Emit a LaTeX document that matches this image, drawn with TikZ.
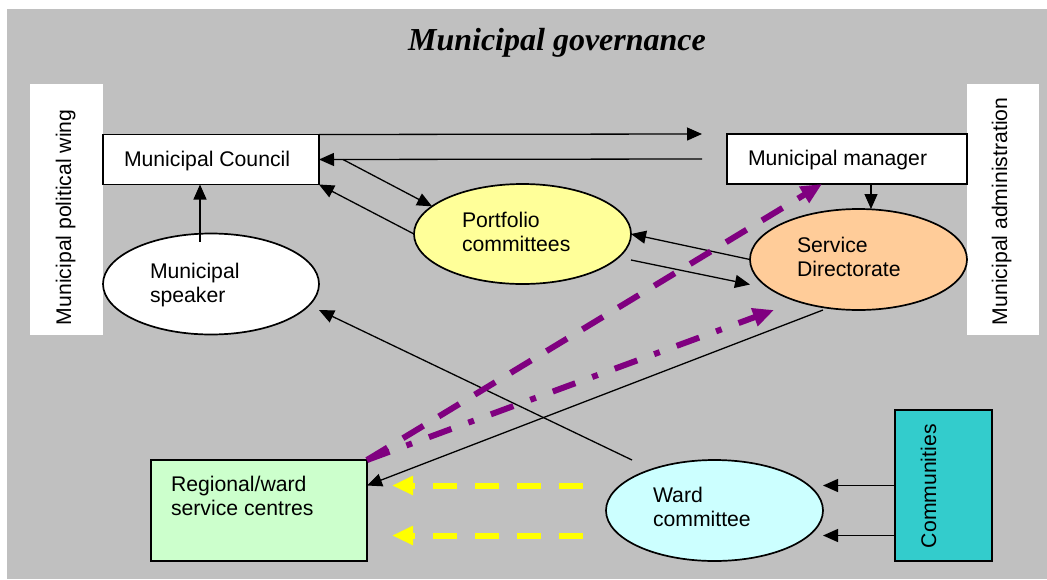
\documentclass[tikz,border=0pt]{standalone}
\usepackage{fontspec}
\setmainfont{Liberation Sans}
\newfontfamily\headfont{Liberation Serif}
\usetikzlibrary{shapes.geometric,arrows.meta}

\definecolor{panelgray}{HTML}{C0C0C0}
\definecolor{pfyellow}{HTML}{FFFF99}
\definecolor{sdorange}{HTML}{FFCC99}
\definecolor{wdcyan}{HTML}{CCFFFF}
\definecolor{rcgreen}{HTML}{CCFFCC}
\definecolor{commteal}{HTML}{33CCCC}
\definecolor{flowpurple}{HTML}{800080}
\definecolor{flowyellow}{HTML}{FFFF00}

% two left-aligned lines, baseline on the first line
\newcommand\twolines[2]{\begin{tabular}[t]{@{}l@{}}#1\\#2\end{tabular}}

\begin{document}
\begin{tikzpicture}[x=1pt,y=-1pt,
  every node/.style={font=\fontsize{21.2}{24}\selectfont},
  box/.style={draw, line width=1.7pt, rectangle, inner sep=0pt, outer sep=0pt},
  oval/.style={draw, line width=1.7pt, ellipse, inner sep=0pt, outer sep=0pt},
  strip/.style={fill=white, rectangle, inner sep=0pt, outer sep=0pt, minimum height=251pt},
  lbl/.style={anchor=base west, inner sep=0pt, outer sep=0pt},
  vlbl/.style={anchor=base west, inner sep=0pt, outer sep=0pt, rotate=90},
  arr/.style={line width=1.3pt, -{Triangle[length=15pt,width=13pt]}},
  thickflow/.style={line width=6pt, -{Triangle[length=21pt,width=18pt]}},
  longdash/.style={thickflow, dash pattern=on 24pt off 18pt},
  longdashdot/.style={thickflow, dash pattern=on 24pt off 18pt on 6pt off 18pt},
]
% page and panel
\useasboundingbox (0,0) rectangle (1047,579);
\fill[white] (0,0) rectangle (1047,579);
\fill[panelgray] (7,9) rectangle (1047,579);

\node[anchor=base, inner sep=0pt, font=\headfont\fontsize{32}{36}\selectfont\bfseries\itshape]
  (title) at (557,50) {Municipal governance};

% side bands
\node[strip, minimum width=73pt] (polwing) at (66.5,209.5) {};
\node[strip, minimum width=72pt] (adminwing) at (1003,209.5) {};
\node[vlbl] (polwing-text) at (71,325) {Municipal political wing};
\node[vlbl] (adminwing-text) at (1007,325) {Municipal administration};

% boxes and ovals
\node[box, fill=white, minimum width=216pt, minimum height=50pt] (council) at (211,159.5) {};
\node[box, fill=white, minimum width=240pt, minimum height=50pt] (manager) at (847,159) {};
\node[oval, fill=white, minimum width=216pt, minimum height=101pt] (speaker) at (211,284) {};
\node[oval, fill=pfyellow, minimum width=217pt, minimum height=100pt] (portfolio) at (522.5,234) {};
\node[oval, fill=sdorange, minimum width=217pt, minimum height=101pt] (directorate) at (858.5,259.5) {};
\node[oval, fill=wdcyan, minimum width=217pt, minimum height=101pt] (ward) at (714.5,510.5) {};
\node[box, fill=rcgreen, minimum width=216pt, minimum height=101pt] (regional) at (259,510.5) {};
\node[box, fill=commteal, minimum width=97pt, minimum height=151pt] (communities) at (943.5,485.5) {};

% black connectors
\draw[arr] (council.north east) -- ([xshift=-25pt]manager.north west);
\draw[arr] ([xshift=-25pt]manager.west) -- (council.east);
\draw[arr] ([xshift=24pt]council.east) -- (portfolio.163);
\draw[arr] (portfolio.west) -- (council.south east);
\draw[arr] (directorate.west) -- (portfolio.east);
\draw[arr] ([yshift=-26pt]portfolio.east) -- ([yshift=-25pt]directorate.west);
\draw[arr] ([xshift=24pt]manager.south) -- ([xshift=12.5pt]directorate.north);
\draw[arr] ([xshift=-11pt,yshift=-8pt]speaker.north) -- ([xshift=-11pt]council.south);
\draw[arr] ([xshift=-82.5pt]ward.north) -- ([yshift=-26pt]speaker.east);
\draw[arr] ([xshift=-35.5pt]directorate.south) -- ([yshift=25pt]regional.east);
\draw[arr] (communities.west) -- ([yshift=25pt]ward.east);
\draw[arr] ([yshift=-50pt]communities.west) -- ([yshift=-25pt]ward.east);

% thick feedback flows
\draw[longdash, flowyellow] ([xshift=-23pt,yshift=25pt]ward.west) -- ([xshift=25pt,yshift=25pt]regional.east);
\draw[longdash, flowyellow] ([xshift=-23pt,yshift=-25pt]ward.west) -- ([xshift=25pt,yshift=-25pt]regional.east);
\draw[longdash, flowpurple] (regional.north east) -- ([xshift=-25pt]manager.south);
\draw[longdashdot, flowpurple] (regional.north east) -- ([xshift=-84.5pt]directorate.south);

% texts
\node[lbl] (council-text) at (124,166) {Municipal Council};
\node[lbl] (manager-text) at (748,165) {Municipal manager};
\node[lbl] (speaker-text) at (150,278) {\twolines{Municipal}{speaker}};
\node[lbl] (portfolio-text) at (462,227) {\twolines{Portfolio}{committees}};
\node[lbl] (directorate-text) at (797,252) {\twolines{Service}{Directorate}};
\node[lbl] (ward-text) at (653,502) {\twolines{Ward}{committee}};
\node[lbl] (regional-text) at (171,491) {\twolines{Regional/ward}{service centres}};
\node[vlbl] (communities-text) at (936,548) {Communities};
\end{tikzpicture}
\end{document}
